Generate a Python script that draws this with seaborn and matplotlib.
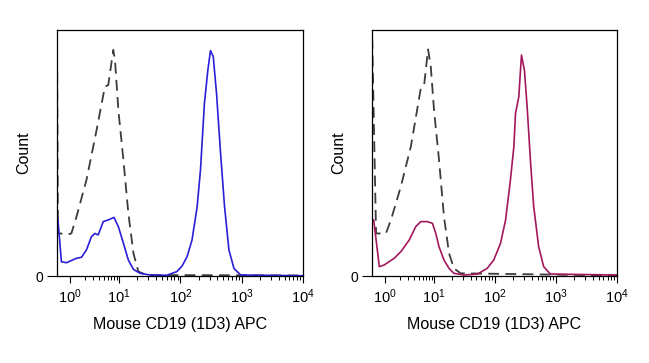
import numpy as np
import matplotlib
matplotlib.use('Agg')
import matplotlib.pyplot as plt
import seaborn as sns
from matplotlib.ticker import FixedLocator, NullFormatter

# channel values (APC intensity) and relative counts (% of max scale)
blue_x = [0.545, 0.57, 0.67, 0.85, 1.36, 1.72, 2.17, 2.75, 3.22, 3.77, 4.77, 6.04, 7.9,
          9.7, 11.8, 14.2, 17.2, 22.1, 32, 60, 88, 107, 129, 155, 188, 213, 247, 281,
          310, 344, 389, 453, 526, 620, 748, 964, 10000]
blue_y = [24.1, 22.8, 5.8, 5.4, 7.2, 7.6, 10.6, 16.0, 17.3, 16.7, 22.1, 22.8, 23.8,
          20.1, 13.3, 6.5, 2.7, 1.1, 0.4, 0.3, 1.8, 4.1, 7.9, 14.6, 28.2, 43.1, 70.2, 83.7,
          91.6, 89.2, 74.3, 49.9, 28.2, 10.6, 3.1, 0.4, 0.1]

ctrl1_x = [0.545, 0.57, 0.62, 0.91, 1.07, 1.36, 2.17, 3.49, 5.16, 6.04, 7.65, 8.27, 9.7,
           11.8, 14.2, 17.2, 20.7, 28.4, 10000]
ctrl1_y = [96.6, 17.3, 17.3, 16.9, 17.3, 24.1, 39.0, 59.3, 77.0, 77.6, 91.9, 87.8, 67.5,
           47.2, 25.5, 9.2, 1.8, 0.4, 0.2]

red_x = [0.55, 0.59, 0.77, 0.97, 1.55, 2.12, 3.14, 4.29, 5.43, 7.4, 9.4, 10.8, 12.2,
         14.7, 17.8, 21.4, 31, 52, 75, 96, 124, 150, 180, 205, 218, 247, 273, 305, 338,
         382, 433, 522, 630, 811, 10000]
red_y = [22.8, 22.8, 3.8, 4.5, 7.2, 9.9, 14.6, 20.1, 22.1, 22.1, 21.4, 17.3, 11.9,
         6.5, 3.1, 1.1, 0.4, 0.8, 3.1, 6.5, 13.3, 22.8, 39.0, 52.6, 66.1, 72.9, 89.8, 83.7, 68.8,
         47.2, 28.2, 11.9, 3.8, 0.8, 0.4]

ctrl2_x = [0.55, 0.66, 1.05, 1.33, 2.12, 3.40, 5.43, 6.35, 7.65, 8.7, 10.1, 12.2, 14.7,
           17.8, 21.4, 27.5, 10000]
ctrl2_y = [96.6, 17.3, 17.3, 22.8, 36.3, 52.6, 76.3, 77.6, 92.1, 85.1, 67.5, 47.2, 24.1,
           9.2, 3.1, 1.1, 0.2]

xlabel = 'Mouse CD19 (1D3) APC'
major_ticks = [1, 10, 100, 1000, 10000]
major_labels = [r'$\mathregular{10^{%d}}$' % i for i in range(5)]


# FlowJo-like axis: first decade compressed
def fwd(x):
    l = np.log10(np.clip(x, 1e-6, None))
    return np.where(l >= 1, l, 1 + 0.8 * (l - 1))


def inv(u):
    u = np.asarray(u, dtype=float)
    return np.where(u >= 1, 10 ** u, 10 ** (1 + (u - 1) / 0.8))


sns.set_style('ticks')
plt.rcParams['font.family'] = ['Liberation Sans', 'DejaVu Sans']
plt.rcParams['mathtext.fontset'] = 'custom'
plt.rcParams['mathtext.rm'] = 'Liberation Sans'
plt.rcParams['mathtext.it'] = 'Liberation Sans:italic'
plt.rcParams['text.color'] = 'black'
plt.rcParams['axes.labelcolor'] = 'black'
plt.rcParams['xtick.color'] = 'black'
plt.rcParams['ytick.color'] = 'black'

fig = plt.figure(figsize=(6.49, 3.63), dpi=100)
ax1 = fig.add_axes([57 / 649, 1 - 276 / 363, 246 / 649, 246 / 363])
ax2 = fig.add_axes([372 / 649, 1 - 276 / 363, 245 / 649, 246 / 363])

panels = [(ax1, blue_x, blue_y, ctrl1_x, ctrl1_y, '#2a1fd8'),
          (ax2, red_x, red_y, ctrl2_x, ctrl2_y, '#a3175c')]

minor = [m * 10 ** d for d in range(0, 4) for m in range(2, 10)]

for ax, sx, sy, cx, cy, col in panels:
    sns.lineplot(x=cx, y=cy, ax=ax, color='#3c3c3c', linewidth=1.3,
                 linestyle=(0, (6, 3.5)), estimator=None, sort=False)
    sns.lineplot(x=sx, y=sy, ax=ax, color=col, linewidth=1.2,
                 estimator=None, sort=False)
    ax.set_xscale('function', functions=(fwd, inv))
    ax.set_xlim(0.545, 10000)
    ax.set_ylim(0, 100)
    ax.xaxis.set_major_locator(FixedLocator(major_ticks))
    ax.xaxis.set_minor_locator(FixedLocator(minor))
    ax.xaxis.set_minor_formatter(NullFormatter())
    ax.set_xticklabels(major_labels)
    ax.set_yticks([0])
    ax.set_yticklabels(['0'])
    ax.tick_params(axis='x', which='major', length=5, width=0.8, labelsize=10.5, pad=3)
    ax.tick_params(axis='x', which='minor', length=3, width=0.7)
    ax.tick_params(axis='y', length=7, width=0.8, labelsize=10, pad=3)
    for sp in ax.spines.values():
        sp.set_visible(True)
        sp.set_color('black')
        sp.set_linewidth(0.9)
    ax.set_xlabel(xlabel, fontsize=11.5, labelpad=8)
    ax.set_ylabel('Count', fontsize=11.5, labelpad=3)

fig.savefig('out.png', dpi=100)
